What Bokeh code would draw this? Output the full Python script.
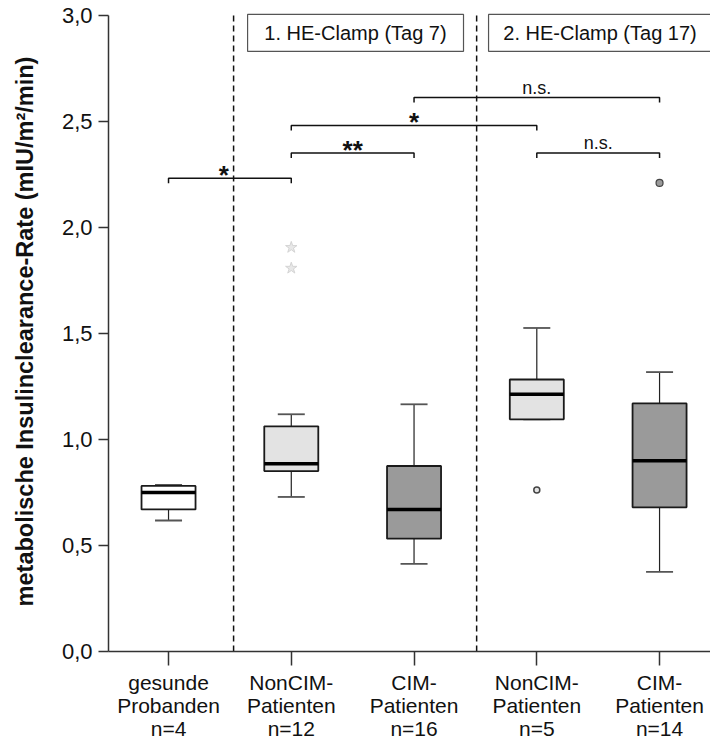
from bokeh.plotting import figure
from bokeh.models import FixedTicker, Range1d
from bokeh.core.properties import value
from bokeh.embed import file_html
from bokeh.resources import INLINE

# ---- data ----
categories = ["gesunde\nProbanden\nn=4", "NonCIM-\nPatienten\nn=12", "CIM-\nPatienten\nn=16",
              "NonCIM-\nPatienten\nn=5", "CIM-\nPatienten\nn=14"]
positions = [1, 2, 3, 4, 5]
whisker_low = [0.618, 0.729, 0.413, 1.095, 0.376]
q1 = [0.670, 0.851, 0.532, 1.095, 0.680]
median = [0.750, 0.886, 0.670, 1.213, 0.900]
q3 = [0.781, 1.062, 0.875, 1.283, 1.170]
whisker_high = [0.786, 1.119, 1.166, 1.526, 1.318]
box_colors = ["#FFFFFF", "#E3E3E3", "#9A9A9A", "#E3E3E3", "#9A9A9A"]

extreme_x = [2, 2]
extreme_y = [1.808, 1.906]
outlier_open_x = [4]
outlier_open_y = [0.762]
outlier_filled_x = [5]
outlier_filled_y = [2.21]

# significance brackets: from, to, level, label
br_from = [1, 2, 2, 3, 4]
br_to = [2, 3, 4, 5, 5]
br_level = [2.232, 2.351, 2.481, 2.613, 2.351]
br_label = ["*", "**", "*", "n.s.", "n.s."]

y_ticks = [0.0, 0.5, 1.0, 1.5, 2.0, 2.5, 3.0]
y_tick_labels = ["0,0", "0,5", "1,0", "1,5", "2,0", "2,5", "3,0"]

separators = [1.53, 3.51]
panel_titles = ["1. HE-Clamp (Tag 7)", "2. HE-Clamp (Tag 17)"]
panel_left = [1.644, 3.607]
panel_right = [3.403, 5.70]
panel_text_x = [2.523, 4.515]
panel_bottom = 2.831
panel_top = 3.005

FONT = "Liberation Sans"
Y_END = 3.0188

p = figure(width=710, height=742, output_backend="svg", toolbar_location=None,
           x_range=Range1d(0.511, 5.415), y_range=Range1d(0, Y_END),
           min_border_left=108, min_border_right=0, min_border_top=11, min_border_bottom=88)
p.outline_line_color = None
p.xgrid.visible = False
p.ygrid.visible = False
p.background_fill_color = "white"

# separators
for s in separators:
    p.line([s, s], [0, Y_END], line_color="#111111", line_width=1.5, line_dash="6 4")

# whiskers
bw = 0.44
cw = 0.22
p.segment(x0=positions, y0=q3, x1=positions, y1=whisker_high, line_color="#222222", line_width=1.2)
p.segment(x0=positions, y0=q1, x1=positions, y1=whisker_low, line_color="#222222", line_width=1.2)
p.segment(x0=[x - cw / 2 for x in positions], y0=whisker_high,
          x1=[x + cw / 2 for x in positions], y1=whisker_high, line_color="#555555", line_width=1.8)
p.segment(x0=[x - cw / 2 for x in positions], y0=whisker_low,
          x1=[x + cw / 2 for x in positions], y1=whisker_low, line_color="#555555", line_width=1.8)

# boxes
p.quad(left=[x - bw / 2 for x in positions], right=[x + bw / 2 for x in positions],
       bottom=q1, top=q3, fill_color=box_colors, line_color="#1a1a1a", line_width=1.8)
p.segment(x0=[x - bw / 2 for x in positions], y0=median,
          x1=[x + bw / 2 for x in positions], y1=median, line_color="black", line_width=3.5)

# outliers
p.scatter(extreme_x, extreme_y, marker="star", size=12, fill_color="#E8E8E8", line_color="#D4D4D4")
p.scatter(outlier_open_x, outlier_open_y, marker="circle", size=6, fill_color="#E3E3E3",
          line_color="#444444", line_width=1.5)
p.scatter(outlier_filled_x, outlier_filled_y, marker="circle", size=7, fill_color="#9A9A9A",
          line_color="#444444", line_width=1.2)

# brackets
tick = 0.023
xs, ys = [], []
for a, b, lv in zip(br_from, br_to, br_level):
    xs.append([a, a, b, b])
    ys.append([lv - tick, lv, lv, lv - tick])
p.multi_line(xs, ys, line_color="#111111", line_width=1.5)
for a, b, lv, lab in zip(br_from, br_to, br_level, br_label):
    mid = (a + b) / 2
    if lab == "n.s.":
        p.text([mid], [lv + 0.047], text=[lab], text_font=value(FONT), text_font_size="18px",
               text_align="center", text_baseline="middle", text_color="#111111")
    else:
        if a == 1:
            mid -= 0.05
        p.text([mid], [lv + 0.016], text=[lab], text_font=value(FONT), text_font_size="26px",
               text_font_style="bold", text_align="center", text_baseline="middle",
               text_color="#111111")

# panel headers
p.quad(left=panel_left, right=panel_right, bottom=[panel_bottom] * 2, top=[panel_top] * 2,
       fill_color="white", line_color="#555555", line_width=1.2)
p.text(panel_text_x, [(panel_bottom + panel_top) / 2] * 2,
       text=panel_titles, text_font=value(FONT), text_font_size="20px",
       text_align="center", text_baseline="middle", text_color="#111111")

# axes
p.yaxis.ticker = FixedTicker(ticks=y_ticks)
p.yaxis.major_label_overrides = {t: l for t, l in zip(y_ticks, y_tick_labels)}
p.yaxis.bounds = (0, 3)
p.yaxis.axis_label = "metabolische Insulinclearance-Rate (mIU/m²/min)"
p.yaxis.axis_label_text_font = FONT
p.yaxis.axis_label_text_font_size = "23.5px"
p.yaxis.axis_label_text_font_style = "bold"
p.yaxis.axis_label_text_color = "#111111"
p.yaxis.axis_label_standoff = 21
p.yaxis.major_label_text_font = FONT
p.yaxis.major_label_text_font_size = "22px"
p.yaxis.major_label_text_color = "#111111"
p.yaxis.major_tick_out = 10
p.yaxis.major_tick_in = 0
p.yaxis.minor_tick_out = 0
p.yaxis.minor_tick_in = 0
p.yaxis.major_label_standoff = 6

p.xaxis.ticker = FixedTicker(ticks=positions)
p.xaxis.major_label_overrides = {x: c for x, c in zip(positions, categories)}
p.xaxis.major_label_text_font = FONT
p.xaxis.major_label_text_font_size = "21px"
p.xaxis.major_label_text_color = "#111111"
p.xaxis.major_label_text_line_height = 1.0
p.xaxis.major_tick_out = 14
p.xaxis.major_tick_in = 0
p.xaxis.minor_tick_out = 0
p.xaxis.minor_tick_in = 0
p.xaxis.major_label_standoff = 5

for ax in (p.xaxis, p.yaxis):
    ax.axis_line_color = "#333333"
    ax.axis_line_width = 1.5
    ax.major_tick_line_color = "#333333"
    ax.major_tick_line_width = 1.5

open("out.html", "w").write(file_html(p, INLINE))
